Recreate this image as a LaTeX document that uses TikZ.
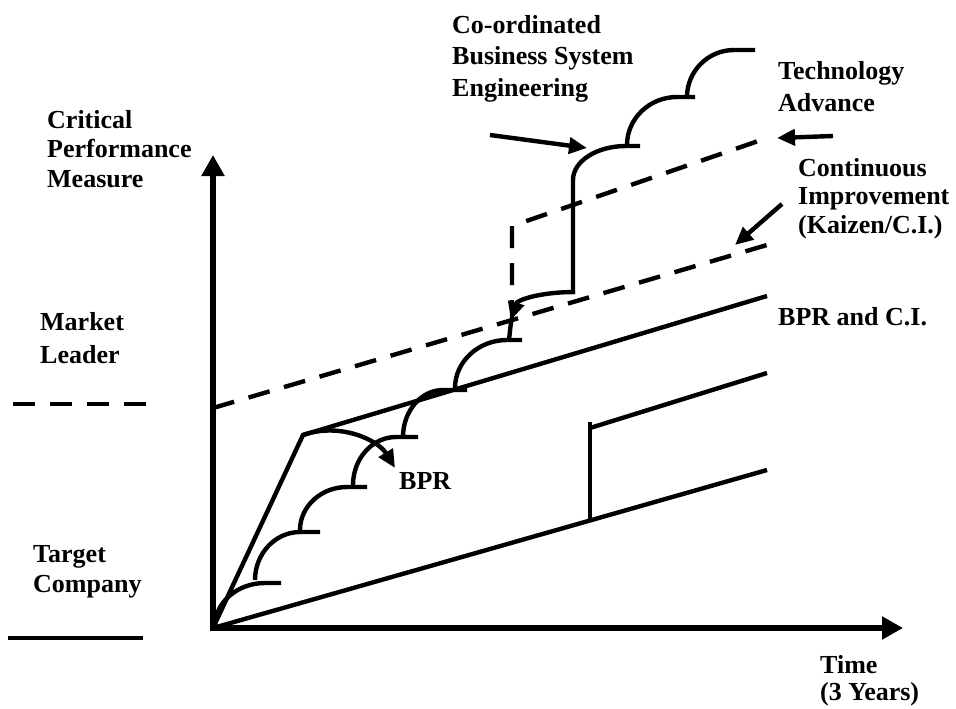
\documentclass[tikz,border=0pt]{standalone}
\usepackage{fontspec}
\setmainfont{Liberation Serif}
\usepackage{tikz}
\usetikzlibrary{arrows.meta}

\begin{document}
\begin{tikzpicture}[x=1pt, y=-1pt,
    lbl/.style={anchor=north west, inner sep=0pt, align=left, font=\fontsize{26}{#1}\selectfont\bfseries},
    lbl/.default=30,
    trend/.style={line width=4.4pt},
    ci/.style={line width=4.4pt, dash pattern=on 22pt off 15pt},
    axis/.style={line width=5.2pt, -{Triangle[length=21pt,width=22pt]}},
    pointer/.style={line width=4.4pt, -{Triangle[length=18pt,width=16pt]}}]

    \useasboundingbox (0,0) rectangle (956,709);

    % Axes
    \coordinate (O) at (213,628);
    \coordinate (ytop) at (213,155);
    \coordinate (xend) at (903,628);
    \draw[axis] ([yshift=-2.6pt]O) -- (ytop);
    \draw[axis] ([xshift=-2.6pt]O) -- (xend);

    % Axis and legend labels
    \node[lbl=29.5] (critical) at (47,110) {Critical\\Performance\\Measure};
    \node[lbl=33] (market) at (40,312) {Market\\Leader};
    \node[lbl=30] (target) at (33,545) {Target\\Company};
    \node[lbl=27.5] (time) at (820,655) {Time\\(3 Years)};

    % Legend lines
    \draw[ci] (13,404) -- (147,404);
    \draw[trend] (8,638) -- (143,638);

    % Target company: slow growth, then a jump
    \coordinate (jumpLow) at (590,522);
    \coordinate (jumpHigh) at (590,422);
    \draw[trend] (O) -- (767,470);
    \draw[trend] (jumpLow) -- (jumpHigh);
    \draw[trend] (590,428) -- (767,373);

    % BPR followed by C.I.
    \coordinate (kink) at (303,435);
    \draw[trend] (O) -- (kink) -- (767,296);
    \node[lbl] (bprci) at (778,307) {BPR and C.I.};

    % Continuous improvement line
    \draw[ci] (213,408) -- (767,245);
    \node[lbl=28.5] (kaizen) at (798,158) {Continuous\\Improvement\\(Kaizen/C.I.)};

    % Technology advance line
    \coordinate (techCorner) at (512,226);
    \draw[ci] (512,322) -- (techCorner) -- (767,138);
    \node[lbl=32] (tech) at (778,61) {Technology\\Advance};

    % Step curves
    \foreach \sx/\sy/\sw/\sh/\se in {215/626/50/43/281, 255/580/45/48/320, 300/530/47/43/367, 353/485/43/48/418,
                                     403/437/40/47/467, 455/388/52/48/522, 627/145/50/48/695, 687/97/47/47/755} {
      \draw[trend] (\sx,\sy) .. controls +(0,-0.55*\sh) and +(-0.55*\sw,0) .. (\sx+\sw,\sy-\sh) -- (\se,\sy-\sh);
    }

    % Co-ordinated business system engineering step
    \coordinate (cbsLow) at (575,292);
    \coordinate (cbsDrop) at (511,320);
    \draw[trend] (509,340) -- (511,322);
    \draw[pointer] (cbsLow) .. controls (540,292) and (517,300) .. (cbsDrop);
    \draw[trend] (573,294) -- (573,180) .. controls +(0,-19) and +(-29,0) .. (626,146) -- (640,146);
    \node[lbl=31.5] (cbse) at (452,15) {Co-ordinated\\Business System\\Engineering};

    % BPR pointer
    \coordinate (bprTip) at (395,468);
    \draw[pointer] (kink) .. controls (340,422) and (378,440) .. (bprTip);
    \node[lbl] (bpr) at (399,472) {BPR};

    % Label pointers
    \coordinate (cbsFrom) at (490,135);
    \coordinate (cbsTip) at (587,148);
    \coordinate (techFrom) at (833,136);
    \coordinate (techTip) at (777,138);
    \coordinate (ciFrom) at (782,204);
    \coordinate (ciTip) at (735,245);
    \draw[pointer] (cbsFrom) -- (cbsTip);
    \draw[pointer] (techFrom) -- (techTip);
    \draw[pointer] (ciFrom) -- (ciTip);
\end{tikzpicture}
\end{document}
